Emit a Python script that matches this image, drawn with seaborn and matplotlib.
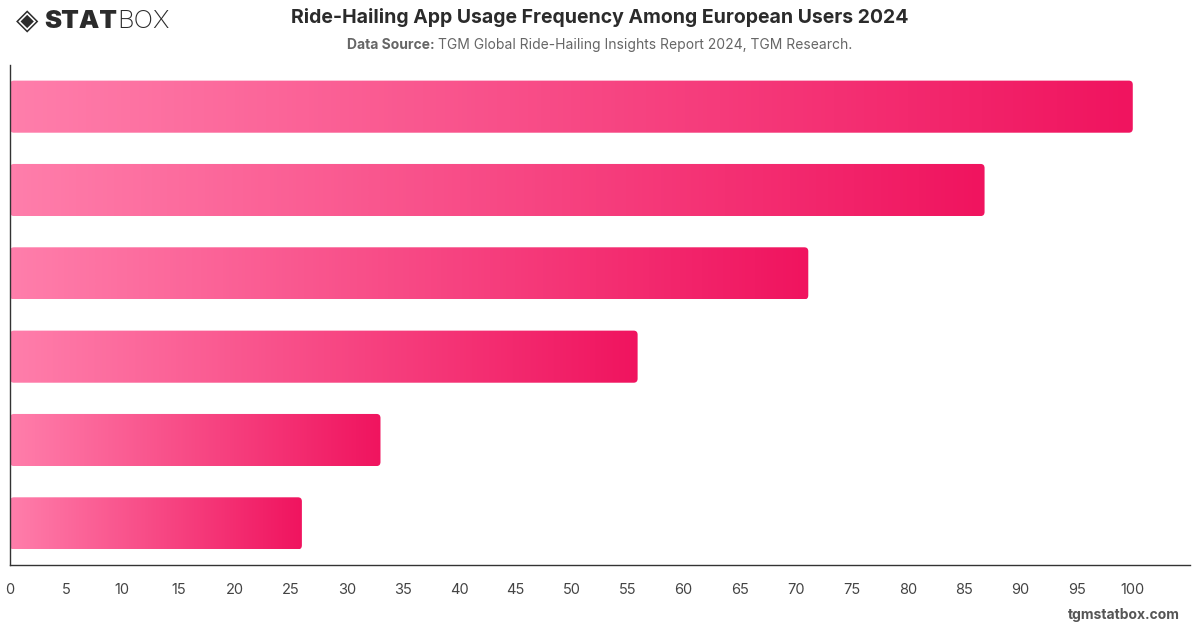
import numpy as np
import pandas as pd
import seaborn as sns
import matplotlib.pyplot as plt
from matplotlib.colors import LinearSegmentedColormap
from matplotlib.patches import FancyBboxPatch

# Usage frequency categories (not labelled on the chart) and values
categories = ["Cat 1", "Cat 2", "Cat 3", "Cat 4", "Cat 5", "Cat 6"]
values = [100.0, 86.8, 71.1, 55.9, 33.0, 26.0]
x_ticks = list(range(0, 105, 5))

df = pd.DataFrame({"category": categories, "value": values})

sns.set_style("white")
plt.rcParams["font.family"] = ["Inter", "DejaVu Sans"]

fig = plt.figure(figsize=(12, 6.28), dpi=100)
ax = fig.add_axes([0.0083, 0.1003, 0.9834, 0.7962])

sns.barplot(data=df, x="value", y="category", orient="h", width=0.625,
            color="#f0145f", ax=ax)

ax.set_xlim(0, 105.1)
ax.set_ylim(len(categories) - 0.5, -0.5)

# gradient fill for every bar, clipped to a rounded box
grad = LinearSegmentedColormap.from_list("pinkgrad", ["#ff7eab", "#f0145f"])
for p in list(ax.patches):
    x0, y0 = p.get_x(), p.get_y()
    w, h = p.get_width(), p.get_height()
    p.set_visible(False)
    box = FancyBboxPatch((x0, y0), w, h, boxstyle="round,pad=0,rounding_size=0.35",
                         mutation_aspect=0.14, facecolor="none", edgecolor="none",
                         transform=ax.transData)
    ax.add_patch(box)
    img = ax.imshow(np.linspace(0, 1, 256).reshape(1, -1), cmap=grad,
                    extent=[x0, x0 + w, y0 + h, y0], aspect="auto",
                    interpolation="bicubic", zorder=2)
    img.set_clip_path(box)

ax.set_xlim(0, 105.1)
ax.set_ylim(len(categories) - 0.5, -0.5)

ax.set_xticks(x_ticks)
ax.set_xticklabels([str(t) for t in x_ticks], fontsize=10.5, color="#444444")
ax.tick_params(axis="x", length=0, pad=13)
ax.set_yticks([])
ax.set_xlabel("")
ax.set_ylabel("")

for side in ["top", "right"]:
    ax.spines[side].set_visible(False)
for side in ["left", "bottom"]:
    ax.spines[side].set_color("#333333")
    ax.spines[side].set_linewidth(1.0)

renderer = fig.canvas.get_renderer()
fig_w = fig.bbox.width

# titles
fig.text(0.5, 0.972, "Ride-Hailing App Usage Frequency Among European Users 2024",
         ha="center", va="center", fontsize=14, fontweight="bold", color="#2b2b2b")

sub_bold = "Data Source: "
sub_rest = "TGM Global Ride-Hailing Insights Report 2024, TGM Research."
t1 = fig.text(0, 0.929, sub_bold, ha="left", va="center", fontsize=10,
              fontweight="bold", color="#666666")
t2 = fig.text(0, 0.929, sub_rest, ha="left", va="center", fontsize=10, color="#666666")
w1 = t1.get_window_extent(renderer).width
w2 = t2.get_window_extent(renderer).width
start = (fig_w - (w1 + w2)) / 2 / fig_w
t1.set_x(start)
t2.set_x(start + w1 / fig_w)

# logo
fig.text(0.013, 0.966, "\u25c8", ha="left", va="center", fontsize=21, color="#2b2b2b",
         family=["DejaVu Sans"])
s1 = fig.text(0.037, 0.966, "STAT", ha="left", va="center", fontsize=18.5,
              fontweight="black", color="#2b2b2b")
sw = s1.get_window_extent(renderer).width
fig.text(0.037 + sw / fig_w, 0.966, "BOX", ha="left", va="center", fontsize=18.5,
         fontweight="light", color="#2b2b2b")

fig.text(0.983, 0.021, "tgmstatbox.com", ha="right", va="center", fontsize=10,
         fontweight="bold", color="#555555")

fig.savefig("out.png", dpi=100, facecolor="white")
